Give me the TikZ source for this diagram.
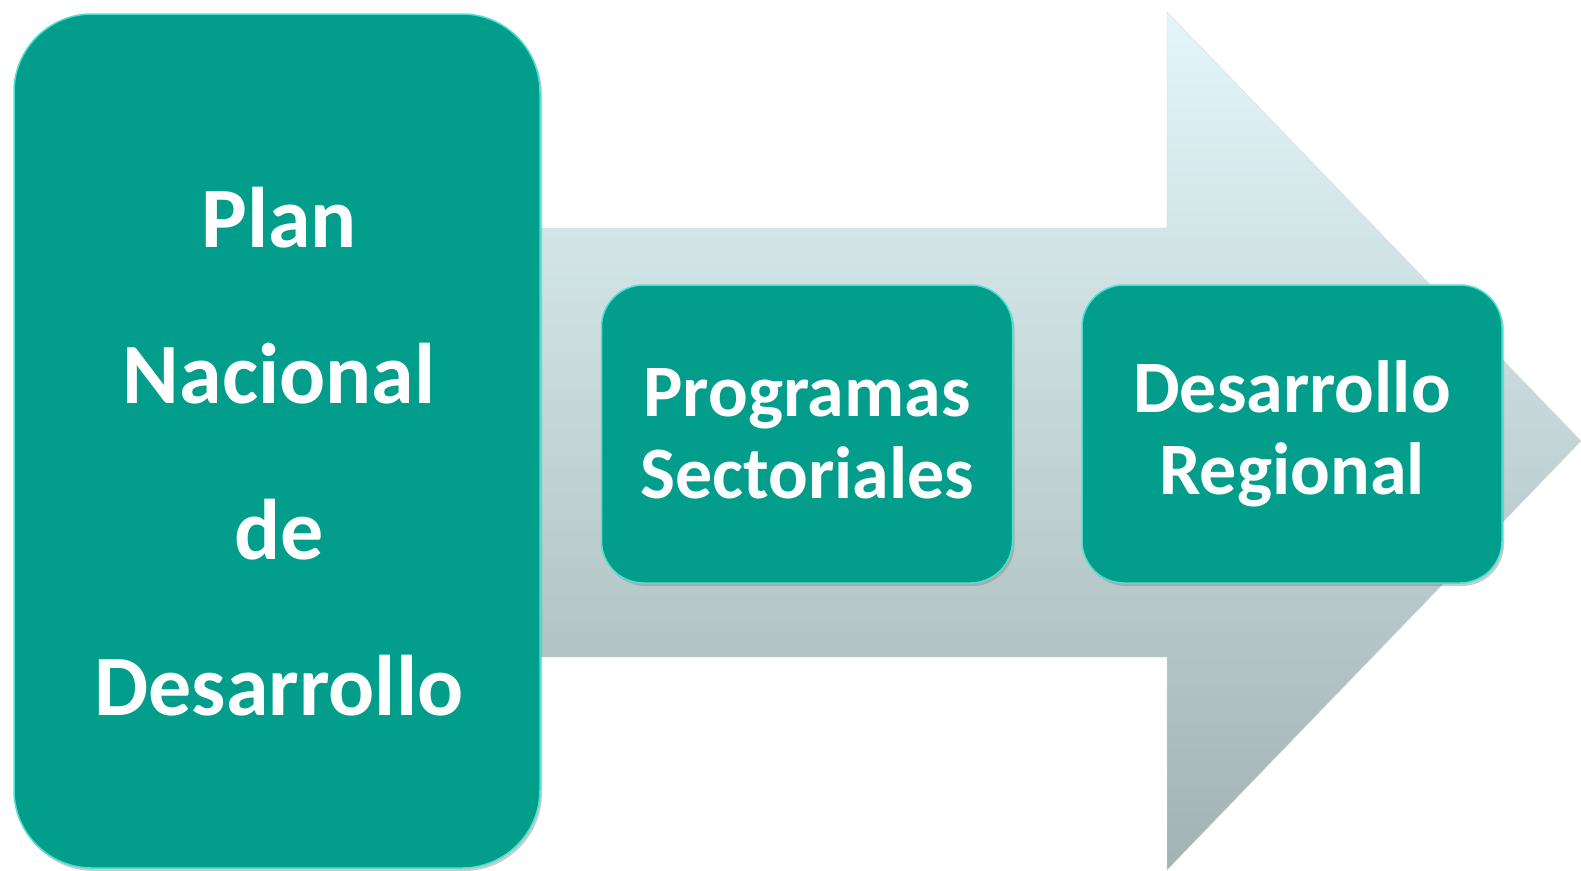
\documentclass[tikz,border=0pt]{standalone}
\usepackage{fontspec}
\setmainfont{Carlito}
\usetikzlibrary{shadows}
\definecolor{tealbox}{HTML}{039D8C}
\definecolor{tealedge}{HTML}{4FE0D2}
\definecolor{arrowtop}{HTML}{E3F6F9}
\definecolor{arrowbot}{HTML}{A2B3B3}
\begin{document}
\begin{tikzpicture}[x=1pt,y=-1pt,
    box/.style={draw=tealedge, line width=1.5pt, fill=tealbox, rounded corners=#1,
      text=white, align=center,
      drop shadow={shadow xshift=2pt,shadow yshift=-3pt,fill=black!45,opacity=.45}},
  ]
  \useasboundingbox (0,0) rectangle (1581,870);
  % big arrow behind
  \draw[draw=black!15, top color=arrowtop, bottom color=arrowbot]
    (520,228) -- (1167,228) -- (1167,12) -- (1581,441) -- (1167,870) -- (1167,657) -- (520,657) -- cycle;
  % boxes
  \node[box=78pt, minimum width=526pt, minimum height=854pt] (plan) at (277,441) {};
  \node[align=center, text=white, font=\fontsize{86}{156}\selectfont\bfseries] (plantext) at (279,452)
    {Plan\\Nacional\\de\\Desarrollo};
  \node[box=42pt, minimum width=411pt, minimum height=298pt,
    font=\fontsize{74}{82}\selectfont\bfseries] (prog) at (807,434) {Programas\\Sectoriales};
  \node[box=42pt, minimum width=420pt, minimum height=298pt,
    font=\fontsize{74}{82}\selectfont\bfseries] (region) at (1292,434) {Desarrollo\\Regional};
\end{tikzpicture}
\end{document}
